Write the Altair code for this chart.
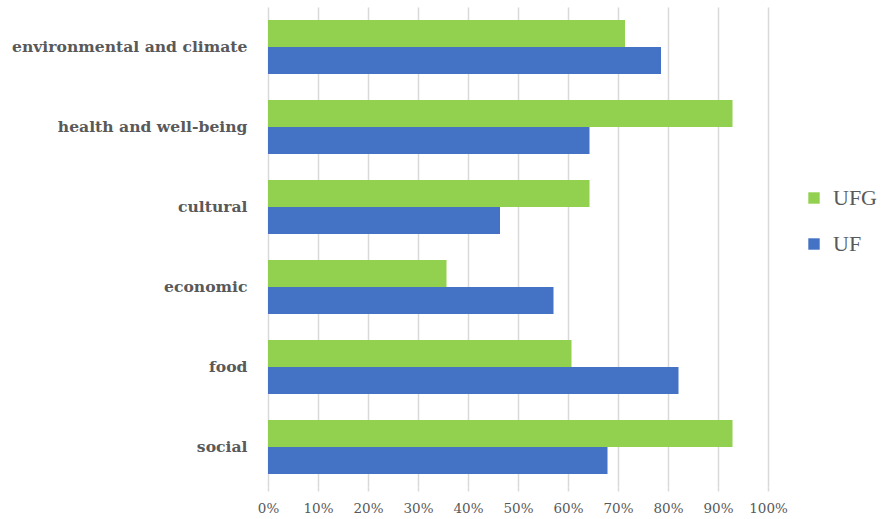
import altair as alt
import pandas as pd

categories = ["environmental and climate", "health and well-being", "cultural",
              "economic", "food", "social"]
series = ["UFG", "UF"]
ufg_values = [0.714, 0.929, 0.643, 0.357, 0.607, 0.929]
uf_values = [0.786, 0.643, 0.464, 0.571, 0.821, 0.679]
colors = ["#92D050", "#4472C4"]
tick_values = [0, 0.1, 0.2, 0.3, 0.4, 0.5, 0.6, 0.7, 0.8, 0.9, 1.0]

rows = []
for c, g, u in zip(categories, ufg_values, uf_values):
    rows.append({"category": c, "series": "UFG", "value": g})
    rows.append({"category": c, "series": "UF", "value": u})
df = pd.DataFrame(rows)

chart = alt.Chart(df).mark_bar().encode(
    y=alt.Y("category:N", sort=categories, title=None,
            scale=alt.Scale(paddingInner=0.325, paddingOuter=0.1625),
            axis=alt.Axis(labelFont="DejaVu Serif", labelFontSize=15.6,
                          labelFontWeight="bold", labelColor="#595959",
                          labelPadding=21, labelLimit=300, ticks=False, domain=False)),
    yOffset=alt.YOffset("series:N", sort=series,
                        scale=alt.Scale(paddingInner=0, paddingOuter=0)),
    x=alt.X("value:Q", title=None,
            scale=alt.Scale(domain=[0, 1], nice=False),
            axis=alt.Axis(values=tick_values, format=".0%",
                          labelFont="DejaVu Serif", labelFontSize=13.5,
                          labelColor="#595959", labelPadding=10,
                          labelOverlap=False, labelBound=False, labelFlush=False,
                          grid=True, gridColor="#d9d9d9", gridWidth=1.5,
                          tickColor="#d9d9d9", tickSize=4, tickWidth=1.5,
                          domain=False)),
    color=alt.Color("series:N", sort=series,
                    scale=alt.Scale(domain=series, range=colors),
                    legend=alt.Legend(title=None, orient="none",
                                      legendX=535, legendY=180,
                                      symbolType="square", symbolSize=130,
                                      labelFont="Liberation Serif",
                                      labelFontSize=22, labelColor="#595959",
                                      labelOffset=8,
                                      rowPadding=24, symbolStrokeWidth=0)),
).properties(
    width=500, height=480,
    autosize=alt.AutoSizeParams(type="none"),
    padding={"left": 268, "top": 7, "right": 113, "bottom": 32},
).configure_view(stroke=None)

chart.save("out.html", embed_options={"renderer": "svg", "actions": False})
